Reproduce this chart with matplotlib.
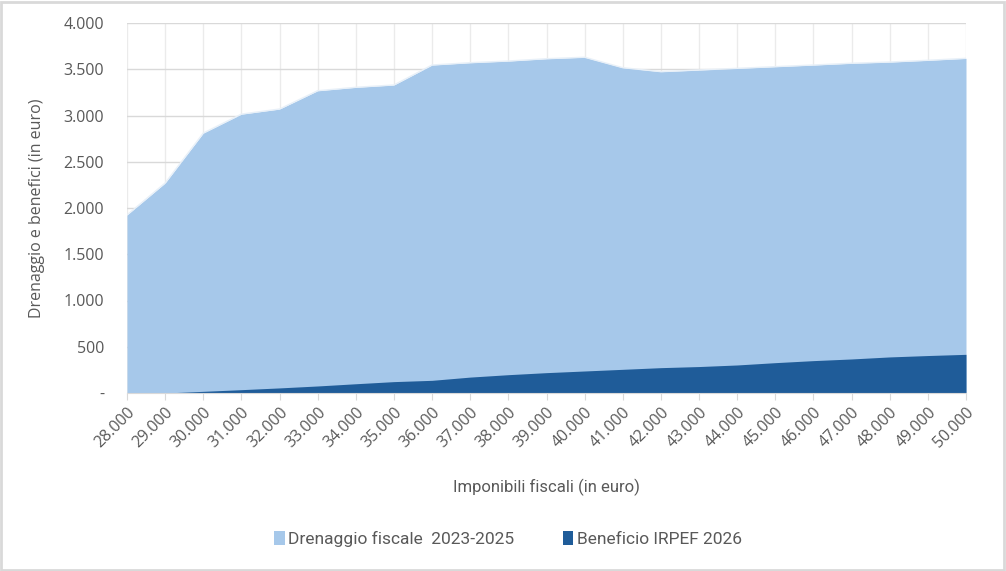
import matplotlib
matplotlib.use("Agg")
import matplotlib.pyplot as plt
from matplotlib.patches import Rectangle, Patch
from matplotlib.ticker import FuncFormatter
from matplotlib import font_manager

imponibili = [28000, 29000, 30000, 31000, 32000, 33000, 34000, 35000, 36000, 37000, 38000,
              39000, 40000, 41000, 42000, 43000, 44000, 45000, 46000, 47000, 48000, 49000, 50000]
drenaggio = [1925, 2270, 2810, 3015, 3070, 3268, 3305, 3330, 3546, 3571, 3589,
             3614, 3630, 3517, 3474, 3492, 3510, 3528, 3546, 3565, 3578, 3597, 3618]
beneficio = [0, 0, 18, 36, 55, 76, 100, 123, 137, 172, 198,
             220, 238, 256, 274, 286, 303, 328, 350, 368, 390, 405, 418]
x_labels = ["28.000", "29.000", "30.000", "31.000", "32.000", "33.000", "34.000", "35.000",
            "36.000", "37.000", "38.000", "39.000", "40.000", "41.000", "42.000", "43.000",
            "44.000", "45.000", "46.000", "47.000", "48.000", "49.000", "50.000"]
y_ticks = [0, 500, 1000, 1500, 2000, 2500, 3000, 3500, 4000]

names = {f.name for f in font_manager.fontManager.ttflist}
narrow = "Liberation Sans Narrow" if "Liberation Sans Narrow" in names else "Roboto"
base = "Open Sans"
plt.rcParams['font.family'] = [base, 'DejaVu Sans']

LIGHT = "#A6C8EA"
DARK = "#1F5C99"
TXT = "#595959"

fig = plt.figure(figsize=(10.06, 5.71), dpi=100)
W, H = 1006, 571
ax = fig.add_axes([127 / W, 1 - 393 / H, (966 - 127) / W, (393 - 23) / H])

xs = list(range(len(imponibili)))
ax.fill_between(xs, 0, drenaggio, color=LIGHT, linewidth=0, zorder=2)
ax.plot(xs, drenaggio, color="#E8F0F8", linewidth=1.0, zorder=2.5)
ax.fill_between(xs, 0, beneficio, color=DARK, linewidth=0, zorder=3)

ax.set_xlim(0, len(xs) - 1)
ax.set_ylim(0, 4000)
ax.set_yticks(y_ticks)
ax.yaxis.set_major_formatter(FuncFormatter(lambda v, p: "-" if v == 0 else f"{int(v):,}".replace(",", ".")))
ax.set_xticks(xs)
ax.set_xticklabels(x_labels, rotation=45, ha="right", rotation_mode="anchor")

ax.grid(axis="y", color="#D9D9D9", linewidth=1.0, zorder=1)
ax.grid(axis="x", color="#EBEBEB", linewidth=1.0, zorder=1)
ax.set_axisbelow(True)
for s in ["top", "right", "left"]:
    ax.spines[s].set_visible(False)
ax.spines["bottom"].set_color("#D9D9D9")
ax.spines["bottom"].set_zorder(4)
ax.tick_params(axis="x", length=5, color="#D9D9D9", colors=TXT, labelsize=11.5, pad=3)
ax.tick_params(axis="y", length=0, colors=TXT, labelsize=11.5, pad=16.5)
for lab in ax.get_yticklabels():
    lab.set_horizontalalignment("right")

fig.text(37 / W, 1 - 208 / H, "Drenaggio e benefici (in euro)", rotation=90,
         ha="center", va="center", color=TXT, fontsize=11.5)
fig.text(546 / W, 1 - 487 / H, "Imponibili fiscali (in euro)", ha="center", va="center",
         color=TXT, fontsize=12, family=[narrow, 'DejaVu Sans'])

handles = [Patch(facecolor=LIGHT, edgecolor="none"), Patch(facecolor=DARK, edgecolor="none")]
leg = fig.legend(handles, ["Drenaggio fiscale  2023-2025", "Beneficio IRPEF 2026"],
                 loc="center", bbox_to_anchor=(508 / W, 1 - 539 / H), ncol=2, frameon=False,
                 handlelength=0.6, handleheight=0.9, handletextpad=0.2, columnspacing=2.8,
                 prop={"family": [narrow, 'DejaVu Sans'], "size": 12.5})
for t in leg.get_texts():
    t.set_color(TXT)

fig.patches.append(Rectangle((1 / W, 1 / H), (W - 3) / W, (H - 3) / H, transform=fig.transFigure,
                             fill=False, edgecolor="#D9D9D9", linewidth=2))

fig.savefig("out.png", dpi=100)
